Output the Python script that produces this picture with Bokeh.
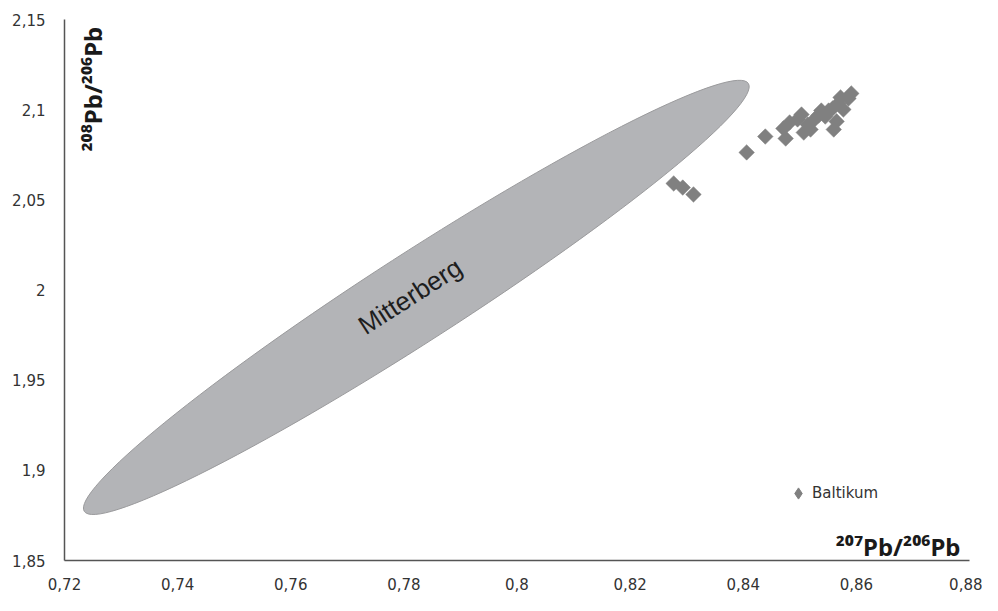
from bokeh.plotting import figure
from bokeh.models import Range1d, FixedTicker, CustomJSTickFormatter, Legend, LegendItem
from bokeh.core.properties import value
from bokeh.embed import file_html
from bokeh.resources import INLINE
import math

# ---- data ----
X_TICKS = [0.72, 0.74, 0.76, 0.78, 0.80, 0.82, 0.84, 0.86, 0.88]
Y_TICKS = [1.85, 1.90, 1.95, 2.00, 2.05, 2.10, 2.15]

baltikum_x = [0.8277, 0.8293, 0.8312, 0.8406, 0.8439, 0.8471, 0.8475, 0.8482,
              0.8496, 0.8503, 0.8507, 0.8514, 0.8519, 0.8526, 0.8533, 0.8538,
              0.8545, 0.8551, 0.8558, 0.8560, 0.8565, 0.8568, 0.8572, 0.8577,
              0.8586, 0.8591]
baltikum_y = [2.0591, 2.0568, 2.0530, 2.0763, 2.0851, 2.0896, 2.0840, 2.0929,
              2.0946, 2.0973, 2.0873, 2.0918, 2.0890, 2.0946, 2.0968, 2.0995,
              2.0962, 2.0995, 2.1007, 2.0890, 2.0935, 2.1034, 2.1068, 2.1001,
              2.1062, 2.1090]

# Mitterberg field (ellipse): centre in data units
mitterberg_center = (0.7822, 1.9959)
mitterberg_label_pos = (0.7811, 1.9965)
mitterberg_label = "Mitterberg"

x_title = "\u00b2\u2070\u2077Pb/\u00b2\u2070\u2076Pb"
y_title = "\u00b2\u2070\u2078Pb/\u00b2\u2070\u2076Pb"

p = figure(width=982, height=595,
           x_range=Range1d(0.72, 0.88), y_range=Range1d(1.85, 2.15),
           output_backend="svg", toolbar_location=None,
           min_border_left=64, min_border_right=13,
           min_border_top=19, min_border_bottom=35)
p.outline_line_color = None
p.grid.visible = False
p.background_fill_color = "white"
p.border_fill_color = "white"

fmt = CustomJSTickFormatter(code="return tick.toString().replace('.', ',');")
for ax, ticks in ((p.xaxis[0], X_TICKS), (p.yaxis[0], Y_TICKS)):
    ax.ticker = FixedTicker(ticks=ticks)
    ax.formatter = fmt
    ax.major_tick_line_color = None
    ax.minor_tick_line_color = None
    ax.major_tick_out = 0
    ax.major_tick_in = 0
    ax.minor_tick_out = 0
    ax.axis_line_color = "#555555"
    ax.axis_line_width = 1.5
    ax.major_label_text_font = "DejaVu Sans"
    ax.major_label_text_font_size = "15px"
    ax.major_label_text_color = "#333333"
p.xaxis.major_label_standoff = 17
p.yaxis.major_label_standoff = 19

# ellipse field
p.ellipse(x=[mitterberg_center[0]], y=[mitterberg_center[1]],
          width=790, height=88, width_units="screen", height_units="screen",
          angle=0.5724, fill_color="#b3b4b7", line_color="#9a9a9c", line_width=1)

p.text(x=[mitterberg_label_pos[0]], y=[mitterberg_label_pos[1]], text=[mitterberg_label],
       angle=0.5724, text_align="center", text_baseline="middle",
       text_font=value("Liberation Sans"), text_font_size="26px", text_color="#1e1e1e")

r = p.scatter(x=baltikum_x, y=baltikum_y, marker="square", size=11, angle=math.pi/4,
              fill_color="#808080", line_color="#808080", line_width=0.5)
# legend-only glyph (no visible point: NaN position)
r_leg = p.scatter(x=[float("nan")], y=[float("nan")], marker="diamond", size=14,
                  fill_color="#808080", line_color="#808080")

# axis titles inside plot
p.text(x=[0.8784], y=[1.8578], text=[x_title], text_align="right",
       text_baseline="alphabetic", text_font=value("Noto Sans"),
       text_font_style="bold", text_font_size="24px", text_color="#1a1a1a")
p.text(x=[0.7249], y=[2.0768], text=[y_title], angle=math.pi/2, text_align="left",
       text_baseline="alphabetic", text_font=value("Noto Sans"),
       text_font_style="bold", text_font_size="24px", text_color="#1a1a1a")

legend = Legend(items=[LegendItem(label="Baltikum", renderers=[r_leg])],
                location=(720, 53), padding=0, margin=0, spacing=0,
                glyph_width=28, glyph_height=28, label_standoff=0,
                border_line_color=None, background_fill_alpha=0,
                label_text_font="DejaVu Sans", label_text_font_size="15px",
                label_text_color="#333333")
p.add_layout(legend)

open("out.html", "w").write(file_html(p, INLINE))
